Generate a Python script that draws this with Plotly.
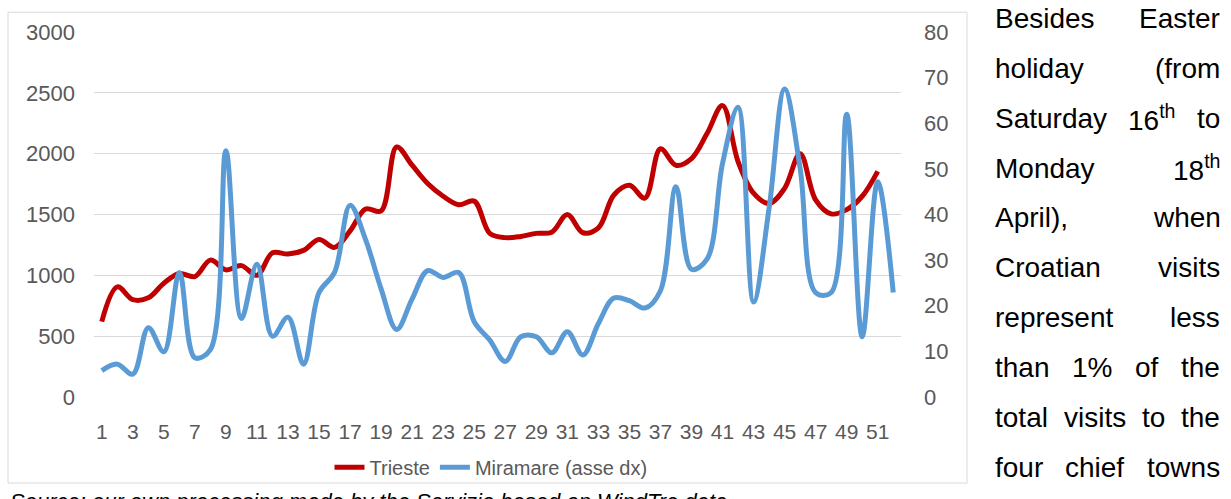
import re

import plotly.graph_objects as go

# weekly visits, 2022 weeks 1..52
weeks = list(range(1, 53))
trieste = [620, 905, 800, 815, 935, 1015, 990, 1125, 1045, 1080,
           1000, 1185, 1175, 1205, 1295, 1230, 1365, 1545, 1530, 2055,
           1905, 1755, 1650, 1580, 1610, 1345, 1310, 1320, 1345, 1355,
           1500, 1350, 1390, 1660, 1740, 1635, 2040, 1905, 1960, 2165,
           2395, 1935, 1675, 1590, 1715, 2000, 1620, 1505, 1540, 1650,
           1855]
miramare = [5.8, 7.2, 5.0, 15.2, 9.9, 27.3, 8.6, 10.4, 54.0, 17.2,
            29.1, 13.3, 17.5, 7.2, 22.9, 27.3, 42.0, 34.5, 23.7, 14.8,
            21.5, 27.7, 26.2, 27.3, 16.5, 12.5, 7.8, 13.2, 13.2, 9.7,
            14.3, 9.2, 16.1, 21.7, 21.1, 19.5, 23.3, 46.1, 28.0, 30.2,
            51.2, 63.5, 20.8, 41.4, 67.5, 50.1, 22.9, 22.9, 62.0, 13.2,
            47.2, 22.9]
tick_weeks = list(range(1, 52, 2))

side_text = [
    ["Besides", "Easter"],
    ["holiday", "(from"],
    ["Saturday", "16<sup>th</sup>", "to"],
    ["Monday", "18<sup>th</sup>"],
    ["April),", "when"],
    ["Croatian", "visits"],
    ["represent", "less"],
    ["than", "1%", "of", "the"],
    ["total", "visits", "to", "the"],
    ["four", "chief", "towns"],
]
caption = "Source: our own processing made by the Servizio based on WindTre data"

GREY = "#595959"
GRID = "#d9d9d9"
FONT = "Liberation Sans"

# plot area in page pixels
L, R, T, B = 94, 901, 32, 401


def px(x):
    return (x - L) / (R - L)


def py(y):
    return (B - y) / (B - T)


# Arial advance widths (per 1000 em), for justifying the side column
ADV = {" ": 278, "(": 333, ")": 333, ",": 278, "%": 889,
       "A": 667, "B": 667, "C": 722, "E": 667, "M": 833, "S": 667}
ADV.update({d: 556 for d in "0123456789"})
ADV.update({"a": 556, "b": 556, "c": 500, "d": 556, "e": 556, "f": 278,
            "h": 556, "i": 222, "l": 222, "m": 833, "n": 556, "o": 556,
            "p": 556, "r": 333, "s": 500, "t": 278, "u": 556, "v": 500,
            "w": 722, "y": 500})


def word_width(word, size):
    sup = "".join(re.findall(r"<sup>(.*?)</sup>", word))
    plain = re.sub(r"<sup>.*?</sup>", "", word)
    w = sum(ADV.get(c, 556) for c in plain) + 0.7 * sum(ADV.get(c, 556) for c in sup)
    return w * size / 1000


fig = go.Figure()
fig.add_trace(go.Scatter(
    x=weeks[:len(trieste)], y=trieste, name="Trieste", mode="lines",
    line=dict(color="#C00000", width=5, shape="spline", smoothing=1),
))
fig.add_trace(go.Scatter(
    x=weeks, y=miramare, name="Miramare (asse dx)", mode="lines", yaxis="y2",
    line=dict(color="#5B9BD5", width=5, shape="spline", smoothing=1),
))

annotations = []
col_left, col_right, size = 993, 1218, 28
for i, words in enumerate(side_text):
    widths = [word_width(w, size) for w in words]
    gap = (col_right - col_left - sum(widths)) / (len(words) - 1)
    x = col_left
    yc = 18 + 50.5 * i
    for w, ww in zip(words, widths):
        annotations.append(dict(
            x=px(x), y=py(yc), xref="paper", yref="paper",
            xanchor="left", yanchor="middle", showarrow=False, text=w,
            font=dict(family=FONT, size=size, color="black"),
        ))
        x += ww + gap

# caption below the chart box, cut off by the bottom edge as in the source
annotations.append(dict(
    x=px(8), y=py(492), xref="paper", yref="paper", xanchor="left", yanchor="top",
    showarrow=False, text=f"<i>{caption}</i>",
    font=dict(family=FONT, size=22, color="black"),
))

fig.update_layout(
    width=1231, height=499,
    margin=dict(l=L, r=1231 - R, t=T, b=499 - B),
    paper_bgcolor="white", plot_bgcolor="white",
    font=dict(family=FONT, color=GREY),
    showlegend=True,
    legend=dict(
        orientation="h", x=px(491), xanchor="center", y=py(472), yanchor="middle",
        font=dict(size=20, color=GREY), bgcolor="rgba(0,0,0,0)",
    ),
    xaxis=dict(
        range=[0.5, 52.5], tickmode="array", tickvals=tick_weeks,
        showgrid=False, zeroline=False, showline=False, ticks="",
        tickfont=dict(size=21, color=GREY), ticklabelstandoff=20,
    ),
    yaxis=dict(
        range=[0, 3000], dtick=500, gridcolor=GRID, gridwidth=1,
        zeroline=False, showline=False, ticks="",
        tickfont=dict(size=22, color=GREY), ticklabelstandoff=18,
    ),
    yaxis2=dict(
        range=[0, 80], dtick=10, overlaying="y", side="right",
        showgrid=False, zeroline=False, showline=False, ticks="",
        tickfont=dict(size=22, color=GREY), ticklabelstandoff=22,
    ),
    shapes=[dict(
        type="rect", xref="paper", yref="paper",
        x0=px(8), x1=px(967), y0=py(488), y1=py(12),
        line=dict(color=GRID, width=1), layer="below",
    )],
    annotations=annotations,
)

# drop the page's default body margin so the figure sits at the window's corner
fig.write_html(
    "out.html",
    config={"displayModeBar": False},
    post_script="document.body.style.margin = '0';",
)
